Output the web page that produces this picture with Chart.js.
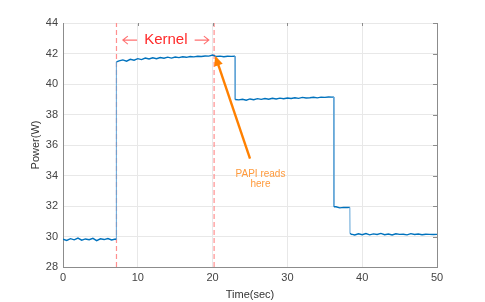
<!DOCTYPE html>
<html lang="en">
<head>
    <meta charset="UTF-8">
    <title>Power trace</title>
    <script src="https://cdn.jsdelivr.net/npm/chart.js"></script>
    <style>
        html, body { margin: 0; padding: 0; background: #fff; }
        #wrap { width: 485px; height: 302px; }
    </style>
</head>
<body>
    <div id="wrap"><canvas id="powerChart"></canvas></div>
    <script>
        const timeSec = [
            0, 0.5, 1, 1.5, 2, 2.5, 3, 3.5, 4, 4.5, 5, 5.5, 6, 6.5, 7, 7.1, 7.12, 7.15,
            7.5, 8, 8.5, 9, 9.5, 10, 10.5, 11, 11.5, 12, 12.5, 13, 13.5, 14, 14.5, 15, 15.5, 16, 16.5, 17, 17.5, 18, 18.5, 19, 19.5, 20,
            20.5, 21, 21.5, 22, 22.5, 23, 23.02,
            23.5, 24, 24.5, 25, 25.5, 26, 26.5, 27, 27.5, 28, 28.5, 29, 29.5, 30, 30.5, 31, 31.5, 32, 32.5, 33, 33.5, 34, 34.5, 35, 35.5, 36, 36.2, 36.22,
            36.5, 37, 37.5, 38, 38.35, 38.37,
            38.5, 39, 39.5, 40, 40.5, 41, 41.5, 42, 42.5, 43, 43.5, 44, 44.5, 45, 45.5, 46, 46.5, 47, 47.5, 48, 48.5, 49, 49.5, 50
        ];
        const powerW = [
            29.82, 29.74, 29.86, 29.78, 29.90, 29.76, 29.84, 29.79, 29.88, 29.73, 29.85, 29.80, 29.87, 29.77, 29.83, 29.80, 38.6, 41.45,
            41.52, 41.58, 41.50, 41.62, 41.56, 41.66, 41.60, 41.70, 41.64, 41.72, 41.66, 41.74, 41.69, 41.76, 41.70, 41.77, 41.73, 41.79, 41.75, 41.80, 41.78, 41.82, 41.80, 41.84, 41.83, 41.90,
            41.80, 41.83, 41.79, 41.82, 41.81, 41.82, 38.98,
            38.96, 39.00, 38.94, 39.02, 38.97, 39.04, 38.99, 39.05, 39.00, 39.06, 39.02, 39.07, 39.03, 39.08, 39.05, 39.10, 39.06, 39.12, 39.08, 39.10, 39.13, 39.09, 39.14, 39.12, 39.15, 39.14, 39.15, 31.95,
            31.95, 31.88, 31.91, 31.90, 31.91, 30.20,
            30.16, 30.10, 30.18, 30.12, 30.19, 30.11, 30.17, 30.13, 30.20, 30.12, 30.16, 30.10, 30.18, 30.14, 30.15, 30.11, 30.19, 30.13, 30.16, 30.12, 30.15, 30.14, 30.13, 30.14
        ];
        const kernelStart = 7.15;
        const kernelEnd = 20.2;
        const yTicks = [28, 30, 32, 34, 36, 38, 40, 42, 44];
        const xTicks = [0, 10, 20, 30, 40, 50];

        const points = timeSec.map((t, i) => ({ x: t, y: powerW[i] }));
        const FONT = '"Liberation Sans", Arial, sans-serif';

        // arrows, text labels and the right/top box edges
        const notes = {
            id: 'notes',
            afterDatasetsDraw(chart) {
                const { ctx, scales: { x, y }, chartArea: a } = chart;
                ctx.save();
                ctx.strokeStyle = '#8c8c8c';
                ctx.lineWidth = 1;
                ctx.beginPath();
                ctx.moveTo(a.right + 0.5, a.top);
                ctx.lineTo(a.right + 0.5, a.bottom);
                ctx.stroke();
                // inward ticks on the right edge
                yTicks.forEach(v => {
                    const py = Math.round(y.getPixelForValue(v)) + 0.5;
                    ctx.beginPath();
                    ctx.moveTo(a.right, py);
                    ctx.lineTo(a.right - 4, py);
                    ctx.stroke();
                });
                xTicks.forEach(v => {
                    const px = Math.round(x.getPixelForValue(v)) + 0.5;
                    ctx.beginPath();
                    ctx.moveTo(px, a.top);
                    ctx.lineTo(px, a.top + 3);
                    ctx.stroke();
                });

                // Kernel label
                const ky = y.getPixelForValue(42.88);
                ctx.fillStyle = '#ff2a2a';
                ctx.font = '15px ' + FONT;
                ctx.textAlign = 'center';
                ctx.textBaseline = 'middle';
                ctx.fillText('Kernel', x.getPixelForValue(13.75), ky);
                ctx.strokeStyle = '#ff7070';
                ctx.lineWidth = 1.1;
                const arrow = (x0, x1) => {
                    const dir = Math.sign(x1 - x0);
                    ctx.beginPath();
                    ctx.moveTo(x0, ky);
                    ctx.lineTo(x1, ky);
                    ctx.moveTo(x1 - dir * 5, ky - 4);
                    ctx.lineTo(x1, ky);
                    ctx.lineTo(x1 - dir * 5, ky + 4);
                    ctx.stroke();
                };
                arrow(x.getPixelForValue(9.9), x.getPixelForValue(8.0));
                arrow(x.getPixelForValue(17.6), x.getPixelForValue(19.5));

                // PAPI arrow
                const tx = x.getPixelForValue(25.0), ty = y.getPixelForValue(35.1);
                const hx = x.getPixelForValue(20.35), hy = y.getPixelForValue(41.85);
                const ang = Math.atan2(hy - ty, hx - tx);
                ctx.strokeStyle = '#ff8000';
                ctx.fillStyle = '#ff8000';
                ctx.lineWidth = 2.4;
                ctx.beginPath();
                ctx.moveTo(tx, ty);
                ctx.lineTo(hx - 6 * Math.cos(ang), hy - 6 * Math.sin(ang));
                ctx.stroke();
                ctx.beginPath();
                ctx.moveTo(hx, hy);
                ctx.lineTo(hx - 10 * Math.cos(ang) + 4.5 * Math.sin(ang), hy - 10 * Math.sin(ang) - 4.5 * Math.cos(ang));
                ctx.lineTo(hx - 10 * Math.cos(ang) - 4.5 * Math.sin(ang), hy - 10 * Math.sin(ang) + 4.5 * Math.cos(ang));
                ctx.closePath();
                ctx.fill();

                ctx.fillStyle = '#ff9a3c';
                ctx.font = '10px ' + FONT;
                ctx.fillText('PAPI reads', x.getPixelForValue(26.4), y.getPixelForValue(34.05));
                ctx.fillText('here', x.getPixelForValue(26.4), y.getPixelForValue(33.4));
                ctx.restore();
            }
        };

        new Chart(document.getElementById('powerChart'), {
            type: 'line',
            data: {
                datasets: [
                    {
                        data: points,
                        borderColor: '#0072bd',
                        borderWidth: 1.4,
                        pointRadius: 0,
                        tension: 0,
                        segment: {
                            // the step edges are thin in the source figure
                            borderColor: c => Math.abs(c.p1.parsed.x - c.p0.parsed.x) < 0.06 ? '#5fa3d6' : undefined,
                            borderWidth: c => Math.abs(c.p1.parsed.x - c.p0.parsed.x) < 0.06 ? 1 : undefined
                        }
                    },
                    {
                        data: [{ x: kernelStart, y: 28 }, { x: kernelStart, y: 44 }],
                        borderColor: '#ff8f8f',
                        borderWidth: 1.2,
                        borderDash: [5, 3],
                        pointRadius: 0
                    },
                    {
                        data: [{ x: kernelEnd, y: 28 }, { x: kernelEnd, y: 44 }],
                        borderColor: '#ff8f8f',
                        borderWidth: 1.2,
                        borderDash: [5, 3],
                        pointRadius: 0
                    }
                ]
            },
            options: {
                responsive: true,
                maintainAspectRatio: false,
                animation: false,
                events: [],
                layout: { padding: { top: 23, right: 48, left: 0, bottom: 0 } },
                plugins: { legend: { display: false }, tooltip: { enabled: false } },
                scales: {
                    x: {
                        type: 'linear',
                        min: 0, max: 50,
                        afterBuildTicks: s => { s.ticks = xTicks.map(v => ({ value: v })); },
                        afterFit: s => { s.height = 35; },
                        grid: { color: '#e8e8e8', drawTicks: false },
                        border: { color: '#8c8c8c' },
                        ticks: { color: '#444', font: { family: FONT, size: 11 }, padding: 4, maxRotation: 0 },
                        title: { display: true, text: 'Time(sec)', color: '#333', font: { family: FONT, size: 11 }, padding: { top: 1, bottom: 0 } }
                    },
                    y: {
                        min: 28, max: 44,
                        afterBuildTicks: s => { s.ticks = yTicks.map(v => ({ value: v })); },
                        afterFit: s => { s.width = 63; },
                        grid: { color: '#e8e8e8', drawTicks: false },
                        border: { color: '#8c8c8c' },
                        ticks: { color: '#444', font: { family: FONT, size: 11 }, padding: 5 },
                        title: { display: true, text: 'Power(W)', color: '#333', font: { family: FONT, size: 11 }, padding: { top: 29, bottom: 2 } }
                    }
                }
            },
            plugins: [notes]
        });
    </script>
</body>
</html>
